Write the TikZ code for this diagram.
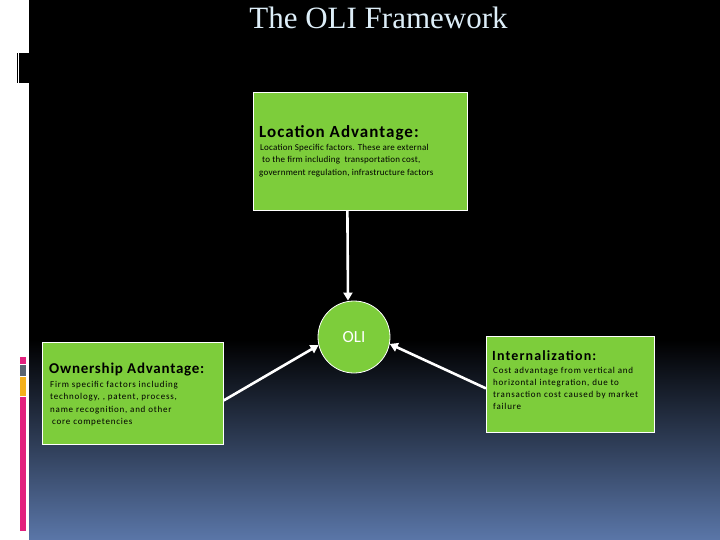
\documentclass[tikz,border=0pt]{standalone}
\usepackage{fontspec}
\setmainfont{Carlito}
\newfontfamily\titlefont{Liberation Serif}
\newfontfamily\locbody[LetterSpace=2.5]{Carlito}
\newfontfamily\sidebody[LetterSpace=8.5]{Carlito}
\newfontfamily\lochead[LetterSpace=6]{Carlito}
\newfontfamily\ownhead[LetterSpace=5]{Carlito}
\newfontfamily\inthead[LetterSpace=8]{Carlito}
\usetikzlibrary{arrows.meta,calc}
\definecolor{boxgreen}{HTML}{7DCD3B}
\definecolor{bgblue}{HTML}{5A76A8}
\definecolor{titleblue}{HTML}{DDEEF8}
\definecolor{barmag}{HTML}{E2217E}
\definecolor{bargray}{HTML}{596470}
\definecolor{barorange}{HTML}{F4B11C}
\begin{document}
\begin{tikzpicture}[x=1pt,y=-1pt,
  greenbox/.style={draw=white, line width=0.8pt, fill=boxgreen, inner sep=0pt, anchor=north west},
  hd/.style={anchor=base west, inner sep=0pt, text=black},
  bd/.style={anchor=base west, inner sep=0pt, text=black},
  lbd/.style={bd, font=\locbody\fontsize{9}{11}\selectfont},
  sbd/.style={bd, font=\sidebody\fontsize{9}{11}\selectfont},
  link/.style={draw=white, line width=2.6pt, -{Triangle[width=9pt,length=8pt]}}]
\useasboundingbox (0,0) rectangle (720,540);
% background
\fill[white] (0,0) rectangle (720,540);
\fill[black] (29,0) rectangle (720,540);
\shade[top color=black, bottom color=bgblue] (29,340) rectangle (720,540);
% left decorations
\fill[black] (19,53) rectangle (29,83);
\fill[black] (17,53) rectangle (18,83);
\fill[barmag] (20,357) rectangle (26,364);
\fill[bargray] (20,365) rectangle (26,376);
\fill[barorange] (20,377) rectangle (26,396);
\fill[barmag] (20,397) rectangle (26,531);
% title
\node[font=\titlefont\fontsize{31}{35}\selectfont, text=titleblue, anchor=base, inner sep=0pt] (title) at (378.5,29) {The OLI Framework};
% boxes
\node[greenbox, minimum width=214pt, minimum height=118pt] (loc) at (253,92) {};
\node[greenbox, minimum width=181pt, minimum height=102pt] (own) at (42,342) {};
\node[greenbox, minimum width=168pt, minimum height=96pt] (int) at (486,336) {};
\node[circle, draw=white, line width=0.8pt, fill=boxgreen, minimum size=72pt, inner sep=0pt,
      text=white, font=\fontsize{17}{20}\selectfont] (oli) at (354,337) {OLI};
% location text
\node[hd, font=\lochead\bfseries\fontsize{17}{20}\selectfont] (loct) at (259,138) {Location Advantage:};
\node[lbd] (loc1) at (260,151) {Location Specific factors. These are external};
\node[lbd] (loc2) at (262,163) {to the firm including\ \ transportation cost,};
\node[lbd] (loc3) at (259,175.5) {government regulation, infrastructure factors};
% ownership text
\node[hd, font=\ownhead\bfseries\fontsize{15}{18}\selectfont] (ownt) at (49,373) {Ownership Advantage:};
\node[sbd] (own1) at (50,387) {Firm specific factors including};
\node[sbd] (own2) at (50,399) {technology, , patent, process,};
\node[sbd] (own3) at (50,412) {name recognition, and other};
\node[sbd] (own4) at (52,424) {core competencies};
% internalization text
\node[hd, font=\inthead\bfseries\fontsize{14}{17}\selectfont] (intt) at (492,360) {Internalization:};
\node[sbd] (int1) at (493,373) {Cost advantage from vertical and};
\node[sbd] (int2) at (493,385) {horizontal integration, due to};
\node[sbd] (int3) at (493,397) {transaction cost caused by market};
\node[sbd] (int4) at (493,409) {failure};
% connectors
\draw[link] ($(loc.south)+(-13,0)$) -- ($(oli.north)+(-6,0)$);
\draw[link] ($(own.east)+(0,7)$) -- (oli.193);
\draw[link] ($(int.west)+(0,4)$) -- (oli.349);
\end{tikzpicture}
\end{document}
